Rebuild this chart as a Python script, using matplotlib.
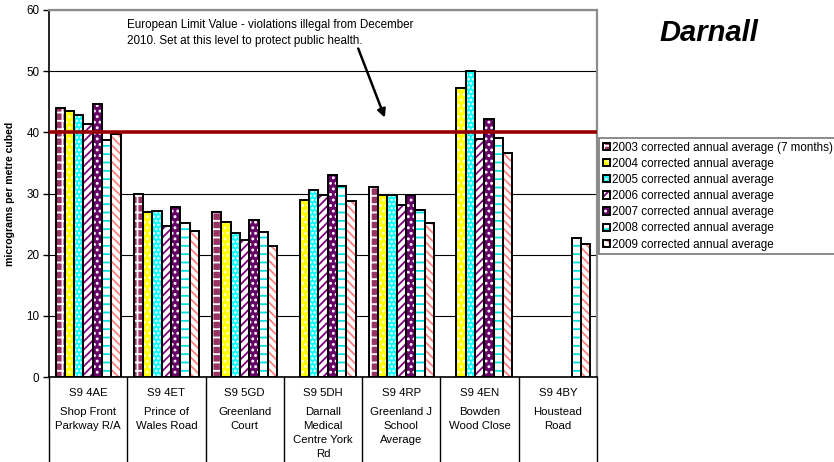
import matplotlib
matplotlib.use("Agg")
import matplotlib.pyplot as plt
import matplotlib.transforms as mtransforms
from matplotlib.legend_handler import HandlerTuple
from matplotlib.patches import Rectangle
import numpy as np

plt.rcParams['font.family'] = ['Liberation Sans', 'DejaVu Sans']
plt.rcParams['hatch.linewidth'] = 1.3

nan = np.nan

# Monitoring sites
site_codes = ["S9 4AE", "S9 4ET", "S9 5GD", "S9 5DH", "S9 4RP", "S9 4EN", "S9 4BY"]
site_names = ["Shop Front\nParkway R/A", "Prince of\nWales Road", "Greenland\nCourt",
              "Darnall\nMedical\nCentre York\nRd", "Greenland J\nSchool\nAverage",
              "Bowden\nWood Close", "Houstead\nRoad"]

# Annual mean NO2 (micrograms per cubic metre)
series_labels = [
    "2003 corrected annual average (7 months)",
    "2004 corrected annual average",
    "2005 corrected annual average",
    "2006 corrected annual average",
    "2007 corrected annual average",
    "2008 corrected annual average",
    "2009 corrected annual average",
]
avg_2003 = [43.9, 29.9, 27.0, nan, 31.0, nan, nan]
avg_2004 = [43.5, 27.0, 25.3, 29.0, 29.7, 47.2, nan]
avg_2005 = [42.9, 27.2, 23.5, 30.5, 29.7, 50.1, nan]
avg_2006 = [41.4, 24.7, 22.4, 29.8, 28.2, 38.9, nan]
avg_2007 = [44.6, 27.8, 25.6, 33.0, 29.7, 42.2, nan]
avg_2008 = [38.7, 25.2, 23.7, 31.3, 27.3, 39.1, 22.7]
avg_2009 = [39.8, 23.9, 21.4, 28.7, 25.2, 36.6, 21.7]
series_values = [avg_2003, avg_2004, avg_2005, avg_2006, avg_2007, avg_2008, avg_2009]

limit_value = 40
y_ticks = [0, 10, 20, 30, 40, 50, 60]

# fill colour, hatch, hatch colour per year
styles = [
    ("#993366", "++", "white"),
    ("#FFFF00", "...", "#FFFFD0"),
    ("#00FFFF", "....", "white"),
    ("white", "////", "#800080"),
    ("#660066", "...", "white"),
    ("white", "--", "#00E0E0"),
    ("white", "\\\\\\\\", "#FF8080"),
]

W, H = 834, 462
fig = plt.figure(figsize=(W / 100, H / 100), dpi=100)
ax = fig.add_axes([49 / W, 1 - 377 / H, 548 / W, 367 / H])

n_sites = len(site_codes)
n_series = len(series_values)
bar_w = 0.119
x0 = np.arange(n_sites) + 0.5

legend_handles = []
for k, (vals, (face, hatch, hcol)) in enumerate(zip(series_values, styles)):
    xs = x0 + (k - (n_series - 1) / 2) * bar_w
    v = np.array(vals, dtype=float)
    m = ~np.isnan(v)
    ax.bar(xs[m], v[m], bar_w, color=face, hatch=hatch, edgecolor=hcol,
           linewidth=0, zorder=3)
    ax.bar(xs[m], v[m], bar_w, fill=False, edgecolor="black",
           linewidth=1.4, zorder=4)
    h1 = Rectangle((0, 0), 1, 1, facecolor=face, hatch=hatch, edgecolor=hcol, linewidth=0)
    h2 = Rectangle((0, 0), 1, 1, fill=False, edgecolor="black", linewidth=1.4)
    legend_handles.append((h1, h2))

# limit line
ax.axhline(limit_value, color="#990000", linewidth=2.6, zorder=5)

ax.set_xlim(0, n_sites)
ax.set_ylim(0, 60)
ax.set_yticks(y_ticks)
ax.set_yticklabels([str(t) for t in y_ticks], fontsize=8.4)
ax.tick_params(axis="y", direction="out", length=4, width=1, pad=3)
ax.set_xticks([])
ax.yaxis.grid(True, color="black", linewidth=0.8, zorder=0)
ax.set_axisbelow(True)
for s in ("top", "right"):
    ax.spines[s].set_color("#8c8c8c")
    ax.spines[s].set_linewidth(1.6)
ax.spines["left"].set_linewidth(1.2)
ax.spines["bottom"].set_linewidth(1.2)

ax.set_ylabel("micrograms per metre cubed", fontsize=7.6, fontweight="bold")
ax.yaxis.set_label_coords(-0.062, 0.5)

# category table below the axis
tr = mtransforms.blended_transform_factory(ax.transData, fig.transFigure)
for i in range(n_sites + 1):
    ax.plot([i, i], [1 - 377 / H, 0], color="black", linewidth=1.0,
            transform=tr, clip_on=False)
for i in range(n_sites):
    ax.text(i + 0.5, 1 - 393 / H, site_codes[i], transform=tr, ha="center",
            va="center", fontsize=8.2)
    ax.text(i + 0.5, 1 - 407 / H, site_names[i], transform=tr, ha="center",
            va="top", fontsize=8.2, linespacing=1.5)

# annotation for the limit value
ax.text(1.0, 58.6, "European Limit Value - violations illegal from December\n"
        "2010. Set at this level to protect public health.",
        fontsize=8.4, va="top", ha="left", linespacing=1.45)
ax.annotate("", xy=(4.29, 42.4), xytext=(3.95, 53.7),
            arrowprops=dict(arrowstyle="-|>", color="black", lw=1.8,
                            mutation_scale=12, shrinkA=0, shrinkB=0))

fig.text(709 / W, 1 - 33 / H, "Darnall", fontsize=21, fontweight="bold",
         fontstyle="italic", ha="center", va="center")

leg = fig.legend(legend_handles, series_labels, loc="upper left",
                 bbox_to_anchor=(599 / W, 1 - 138 / H),
                 bbox_transform=fig.transFigure, borderaxespad=0,
                 fontsize=8.4, handlelength=0.6, handleheight=0.6,
                 handletextpad=0.2, labelspacing=0.36, borderpad=0.3,
                 fancybox=False, frameon=True,
                 handler_map={tuple: HandlerTuple(ndivide=1, pad=0)})
leg.get_frame().set_edgecolor("#555555")
leg.get_frame().set_linewidth(1.2)

fig.savefig("out.png", dpi=100)
